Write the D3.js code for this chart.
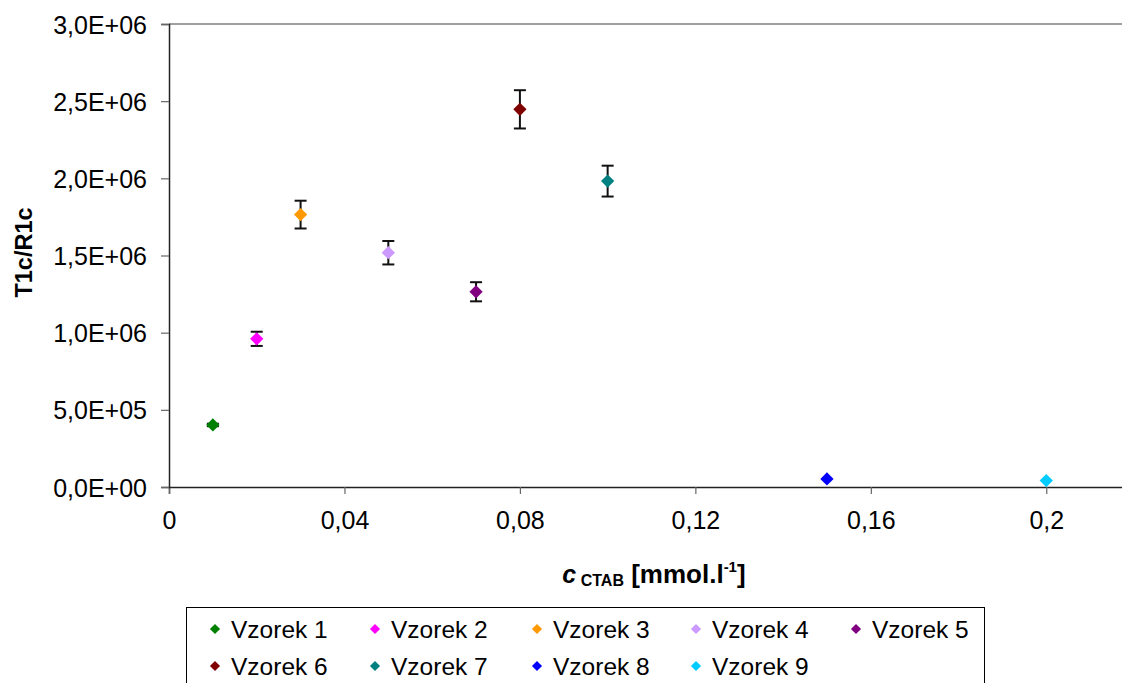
<!DOCTYPE html>
<html>
<head>
<meta charset="utf-8">
<script src="https://cdn.jsdelivr.net/npm/d3@7"></script>
<style>
  html, body { margin: 0; padding: 0; background: #fff; }
  svg { display: block; font-family: "Liberation Sans", Arial, sans-serif; }
</style>
</head>
<body>
<svg id="chart" width="1122" height="683"></svg>
<script>
// Samples, CTAB concentration, T1c/R1c ratio and its error
const seriesNames = ["Vzorek 1", "Vzorek 2", "Vzorek 3", "Vzorek 4", "Vzorek 5",
                     "Vzorek 6", "Vzorek 7", "Vzorek 8", "Vzorek 9"];
const concentrations = [0.01, 0.02, 0.03, 0.05, 0.07, 0.08, 0.10, 0.15, 0.20];
const ratios = [402000, 960000, 1765000, 1518000, 1265000, 2447000, 1982000, 52000, 42000];
const errors = [8000, 46000, 90000, 76000, 62000, 124000, 100000, 0, 0];
const colors = ["#008000", "#FF00FF", "#FF9900", "#CC99FF", "#800080",
                "#800000", "#008080", "#0000FF", "#00CCFF"];
const xTicks = [0, 0.04, 0.08, 0.12, 0.16, 0.2];
const yTicks = [0, 500000, 1000000, 1500000, 2000000, 2500000, 3000000];

const svg = d3.select("#chart");
const plot = { left: 169, top: 24, bottom: 487, right: 1134 };

const x = d3.scaleLinear().domain([0, 0.22]).range([plot.left, plot.right]);
const y = d3.scaleLinear().domain([0, 3000000]).range([plot.bottom, plot.top]);

// Number formats with decimal comma
const fmtX = v => String(+v.toFixed(2)).replace(".", ",");
const fmtY = v => {
  if (v === 0) return "0,0E+00";
  const e = Math.floor(Math.log10(v));
  const m = (v / Math.pow(10, e)).toFixed(1).replace(".", ",");
  return m + "E+" + String(e).padStart(2, "0");
};

// Plot area frame (top border)
svg.append("line")
  .attr("x1", plot.left).attr("x2", plot.right)
  .attr("y1", y(3000000)).attr("y2", y(3000000))
  .attr("stroke", "#808080").attr("stroke-width", 1.5);

// Axes
const xAxis = svg.append("g")
  .attr("transform", `translate(0,${plot.bottom})`)
  .call(d3.axisBottom(x).tickValues(xTicks).tickFormat(fmtX).tickSize(7).tickPadding(18));
const yAxis = svg.append("g")
  .attr("transform", `translate(${plot.left},0)`)
  .call(d3.axisLeft(y).tickValues(yTicks).tickFormat(fmtY).tickSize(8).tickPadding(14));

[xAxis, yAxis].forEach(g => {
  g.select(".domain").attr("stroke", "#222").attr("stroke-width", 1.5);
  g.selectAll(".tick line").attr("stroke", "#666").attr("stroke-width", 1.2);
  g.selectAll(".tick text").attr("fill", "#000").style("font-size", "25px")
    .style("font-family", "'Liberation Sans', Arial, sans-serif");
});
yAxis.selectAll(".tick text").attr("dy", "0.36em");
xAxis.selectAll(".tick text").attr("dy", "0.68em");

// Axis titles
svg.append("text")
  .attr("transform", `translate(32,${(plot.top + plot.bottom) / 2 - 3}) rotate(-90)`)
  .attr("text-anchor", "middle")
  .style("font-size", "23.5px").style("font-weight", "bold")
  .text("T1c/R1c");

const xt = svg.append("text")
  .attr("x", 654).attr("y", 583)
  .attr("text-anchor", "middle")
  .style("font-weight", "bold").style("font-size", "26px");
xt.append("tspan").style("font-style", "italic").style("font-size", "25px").text("c");
xt.append("tspan").attr("dy", 3).style("font-size", "16px").text(" CTAB");
xt.append("tspan").attr("dy", -3).text(" [mmol.l");
xt.append("tspan").attr("dy", -11).style("font-size", "15px").text("-1");
xt.append("tspan").attr("dy", 11).text("]");

// Data
const data = seriesNames.map((name, i) => ({
  name, cx: concentrations[i], val: ratios[i], err: errors[i], color: colors[i]
}));

const diamond = d3.symbol().type(d3.symbolDiamond2);

// Error bars
const eb = svg.append("g").attr("stroke", "#111").attr("stroke-width", 2);
data.filter(d => d.err > 0).forEach(d => {
  const cxp = x(d.cx);
  eb.append("line").attr("x1", cxp).attr("x2", cxp)
    .attr("y1", y(d.val - d.err)).attr("y2", y(d.val + d.err));
  [d.val - d.err, d.val + d.err].forEach(v => {
    eb.append("line").attr("x1", cxp - 6).attr("x2", cxp + 6)
      .attr("y1", y(v)).attr("y2", y(v));
  });
});

// Markers
svg.append("g").selectAll("path").data(data).join("path")
  .attr("d", diamond.size(112))
  .attr("transform", d => `translate(${x(d.cx)},${y(d.val)})`)
  .attr("fill", d => d.color);

// Legend
const legend = svg.append("g");
legend.append("rect")
  .attr("x", 186.5).attr("y", 607.5).attr("width", 798).attr("height", 100)
  .attr("fill", "none").attr("stroke", "#000").attr("stroke-width", 1);
const colX = [215, 375, 537, 696, 856];
const rowY = [629, 666];
data.forEach((d, i) => {
  const gx = colX[i % 5], gy = rowY[Math.floor(i / 5)];
  legend.append("path")
    .attr("d", diamond.size(66))
    .attr("transform", `translate(${gx},${gy})`)
    .attr("fill", d.color);
  legend.append("text")
    .attr("x", gx + 16).attr("y", gy).attr("dy", "0.36em")
    .style("font-size", "24.5px")
    .text(d.name);
});
</script>
</body>
</html>
